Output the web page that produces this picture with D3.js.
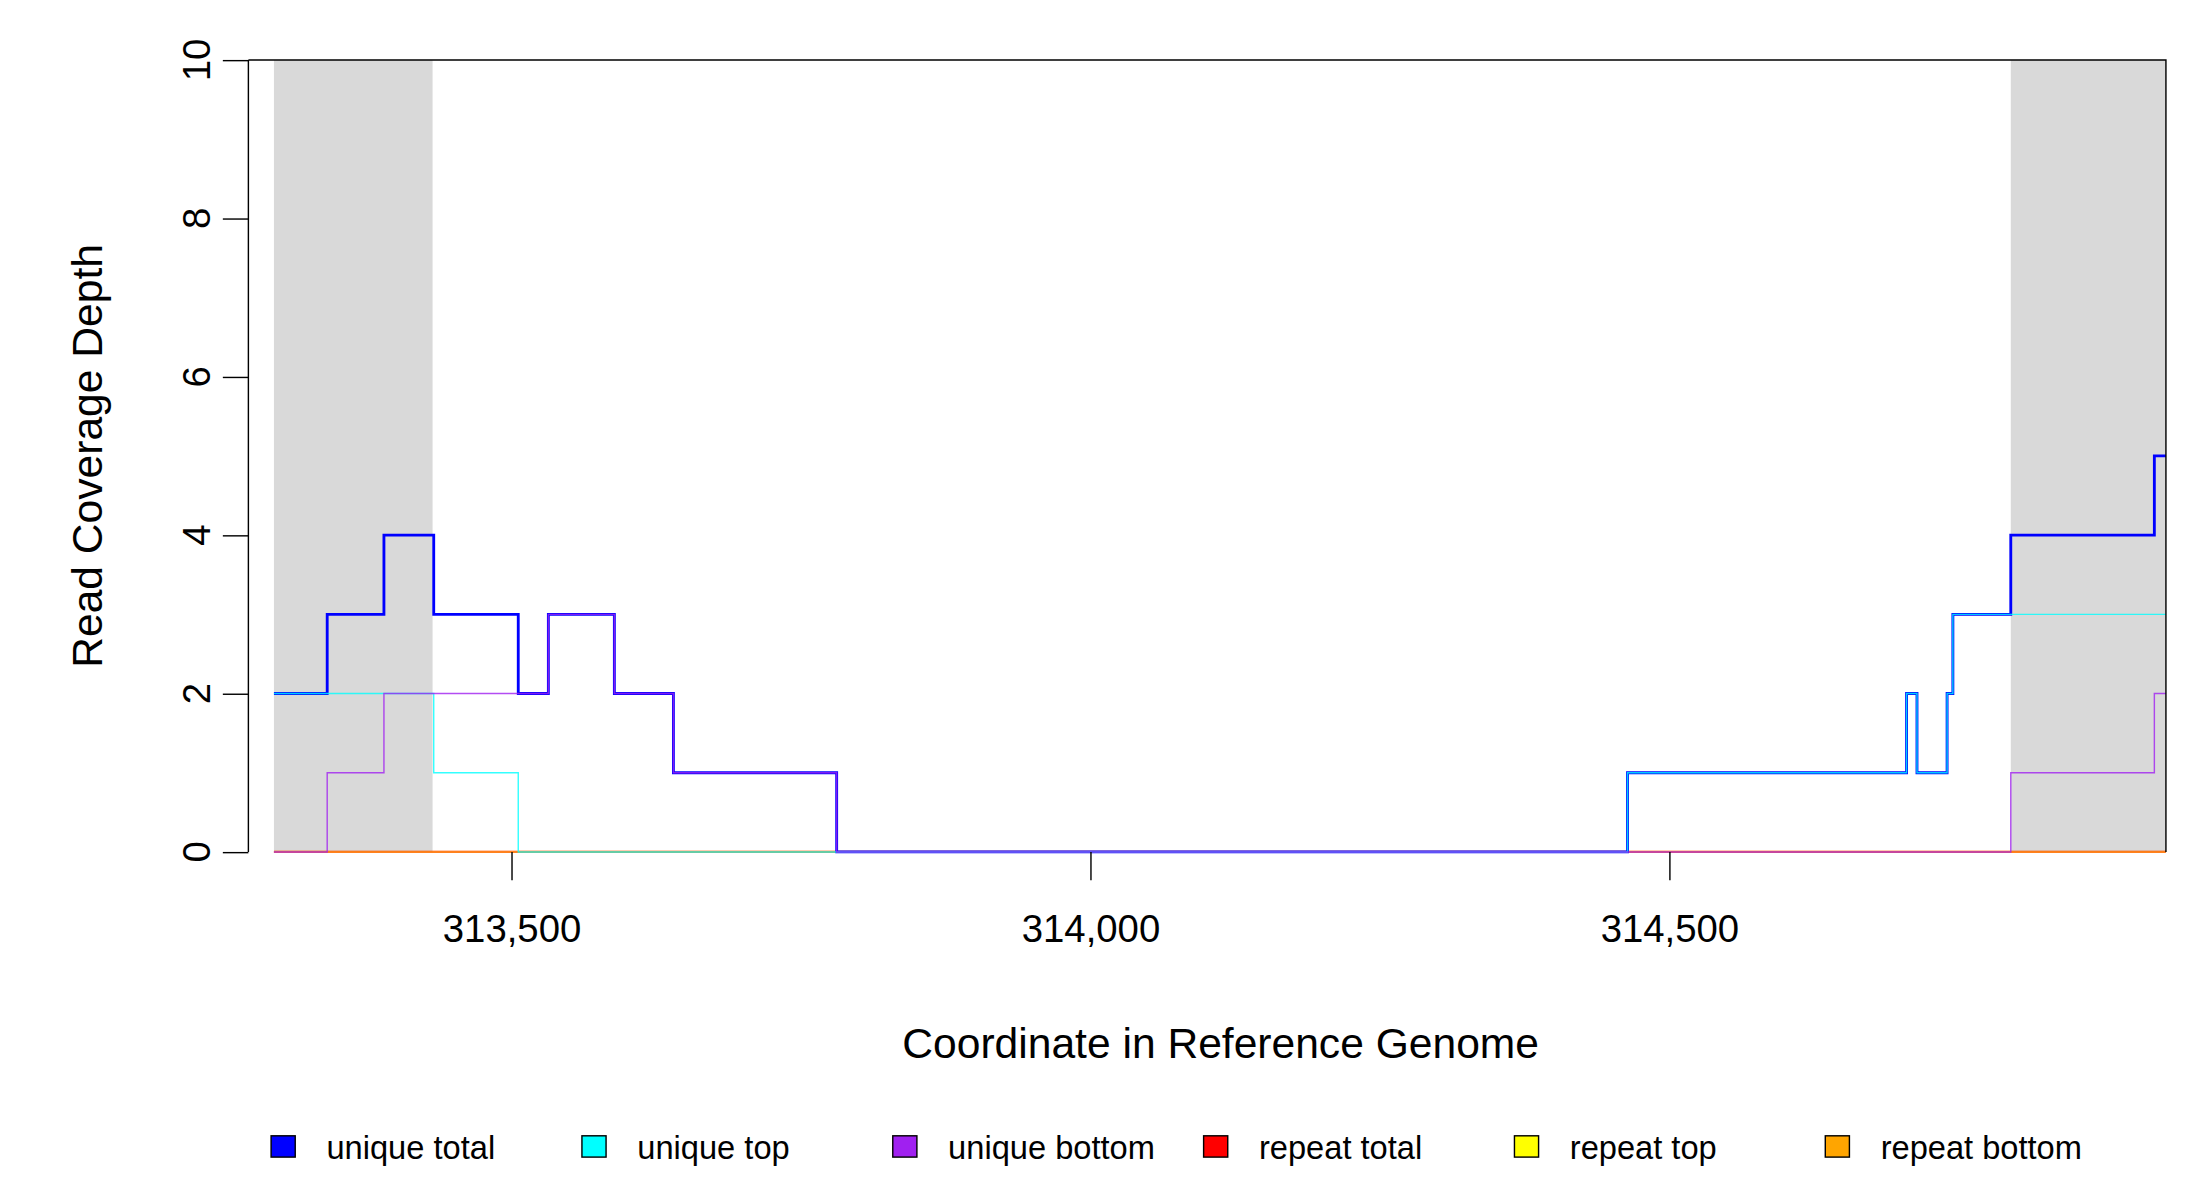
<!DOCTYPE html>
<html><head><meta charset="utf-8">
<script src="https://cdn.jsdelivr.net/npm/d3@7"></script>
<style>body{margin:0;background:#fff}svg{display:block;font-family:"Liberation Sans",Arial,sans-serif}</style>
</head><body><svg id="chart"></svg>
<script>
// step breakpoints (coordinate where each value starts), last entry is the end
const xStart = 313295, xEnd = 314929;
const shaded = [[313295, 313432], [314795, 314929]];
const totalX = [313295, 313341, 313390, 313433, 313506, 313532, 313589, 313640, 313781, 314464, 314705, 314714, 314740, 314745, 314795, 314919];
const totalY = [2, 3, 4, 3, 2, 3, 2, 1, 0, 1, 2, 1, 2, 3, 4, 5];
const topX = [313295, 313433, 313506, 314464, 314705, 314714, 314740, 314745];
const topY = [2, 1, 0, 1, 2, 1, 2, 3];
const bottomX = [313295, 313341, 313390, 313532, 313589, 313640, 313781, 314795, 314919];
const bottomY = [0, 1, 2, 3, 2, 1, 0, 1, 2];
const repeatX = [313295];
const repeatY = [0];
const xTicks = [313500, 314000, 314500];
const yTicks = [0, 2, 4, 6, 8, 10];
const legendNames = ["unique total", "unique top", "unique bottom", "repeat total", "repeat top", "repeat bottom"];
const legendColors = ["#0000ff", "#00ffff", "#a020f0", "#ff0000", "#ffff00", "#ffa500"];

const svg = d3.select('#chart').attr('width', 2200).attr('height', 1200)
  .attr('viewBox', '0 0 1550 845');
const x = d3.scaleLinear().domain([xStart, xEnd]).range([193, 1526]);
const y = d3.scaleLinear().domain([0, 10]).range([600, 42]);

shaded.forEach(s => svg.append('rect').attr('x', x(s[0])).attr('y', y(10))
  .attr('width', x(s[1]) - x(s[0])).attr('height', y(0) - y(10)).attr('fill', '#d9d9d9'));

function stepLine(xs, ys, color, w, op) {
  const pts = xs.map((v, i) => [v, ys[i]]);
  pts.push([xEnd, ys[ys.length - 1]]);
  const line = d3.line().x(d => x(d[0])).y(d => y(d[1])).curve(d3.curveStepAfter);
  svg.append('path').attr('d', line(pts)).attr('fill', 'none')
    .attr('stroke', color).attr('stroke-width', w).attr('stroke-opacity', op);
}
stepLine(repeatX, repeatY, '#ff0000', 1.5, 0.7);
stepLine(repeatX, repeatY, '#ffa500', 1.5, 0.6);
stepLine(totalX, totalY, '#0000ff', 2, 1);
stepLine(topX, topY, '#00ffff', 1, 0.8);
stepLine(bottomX, bottomY, '#a020f0', 1, 0.8);

// box top and right
svg.append('path').attr('d', `M175,${y(10)}H1526V${y(0)}`).attr('fill', 'none').attr('stroke', '#000');

// y axis
const ya = svg.append('g').attr('transform', 'translate(175,0)')
  .call(d3.axisLeft(y).tickValues(yTicks).tickSize(18).tickPadding(0).tickFormat(''));
ya.select('.domain').attr('d', `M0,${y(0)}V${y(10)}`);
yTicks.forEach(t => svg.append('text').attr('transform', `translate(148,${y(t)}) rotate(-90)`)
  .attr('text-anchor', 'middle').attr('font-size', 27).text(t));

// x axis
const xa = svg.append('g').attr('transform', 'translate(0,600)')
  .call(d3.axisBottom(x).tickValues(xTicks).tickSize(20).tickPadding(24));
xa.select('.domain').remove();
xa.selectAll('text').attr('font-size', 27).attr('fill', '#000').attr('font-family', 'Liberation Sans');

svg.append('text').attr('x', 860).attr('y', 745).attr('text-anchor', 'middle').attr('font-size', 30)
  .text('Coordinate in Reference Genome');
svg.append('text').attr('transform', 'translate(72,321) rotate(-90)').attr('text-anchor', 'middle')
  .attr('font-size', 30).text('Read Coverage Depth');

const lg = svg.append('g').selectAll('g').data(legendNames).join('g')
  .attr('transform', (d, i) => `translate(${191 + i * 219},800)`);
lg.append('rect').attr('width', 17).attr('height', 15).attr('stroke', '#000')
  .attr('fill', (d, i) => legendColors[i]);
lg.append('text').attr('x', 39).attr('y', 16).attr('font-size', 23).text(d => d);
</script></body></html>
